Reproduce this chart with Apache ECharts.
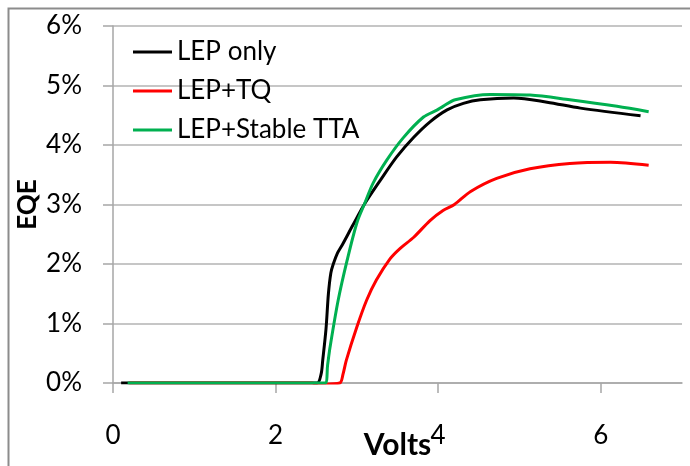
<!DOCTYPE html>
<html>
<head>
<meta charset="utf-8">
<script src="https://cdn.jsdelivr.net/npm/echarts@6/dist/echarts.min.js"></script>
<style>
  html, body { margin: 0; padding: 0; background: #fff; }
  #chart { width: 690px; height: 466px; }
</style>
</head>
<body>
<div id="chart"></div>
<script>
// EQE (%) versus drive voltage for the three device stacks
const seriesNames = ['LEP only', 'LEP+TQ', 'LEP+Stable TTA'];
const seriesColors = ['#000000', '#ff0000', '#00b050'];

const lepOnly = [
  [0.1, 0], [1.0, 0], [2.0, 0], [2.51, 0], [2.56, 0.15], [2.58, 0.38], [2.62, 0.9],
  [2.65, 1.5], [2.68, 1.85], [2.71, 2.0], [2.76, 2.18], [2.82, 2.32], [2.95, 2.65],
  [3.1, 3.02], [3.29, 3.41], [3.49, 3.8], [3.7, 4.13], [3.9, 4.39], [4.11, 4.59],
  [4.31, 4.7], [4.52, 4.76], [4.93, 4.79], [5.34, 4.72], [5.75, 4.62], [6.49, 4.49]
];

const lepTq = [
  [0.2, 0], [1.0, 0], [2.0, 0], [2.45, 0], [2.5, -0.02], [2.6, -0.02], [2.79, 0],
  [2.83, 0.15], [2.87, 0.38], [3.0, 0.94], [3.12, 1.39], [3.24, 1.73], [3.41, 2.09],
  [3.53, 2.26], [3.7, 2.45], [3.9, 2.73], [4.06, 2.9], [4.2, 3.0], [4.4, 3.22],
  [4.72, 3.44], [5.13, 3.6], [5.62, 3.69], [6.12, 3.71], [6.59, 3.66]
];

const lepStableTta = [
  [0.18, 0], [1.0, 0], [2.0, 0], [2.61, 0], [2.64, 0.3], [2.67, 0.6], [2.77, 1.39],
  [2.88, 2.06], [3.0, 2.69], [3.1, 3.03], [3.2, 3.36], [3.37, 3.75], [3.57, 4.12],
  [3.82, 4.47], [3.99, 4.59], [4.06, 4.65], [4.21, 4.76], [4.64, 4.85], [5.13, 4.84],
  [5.62, 4.76], [6.2, 4.65], [6.59, 4.56]
];

const xTickValues = [0, 2, 4, 6];
const seriesData = [lepOnly, lepTq, lepStableTta];

const FONT = 'Lato';
const chart = echarts.init(document.getElementById('chart'), null, { renderer: 'canvas' });

chart.setOption({
  animation: false,
  backgroundColor: '#ffffff',
  graphic: [{
    type: 'rect',
    left: 6, top: 6,
    shape: { width: 720, height: 480 },
    style: { fill: 'none', stroke: '#8c8c8c', lineWidth: 2 },
    z: -1
  }],
  grid: { left: 113, right: 8, top: 26, bottom: 83, outerBoundsMode: 'none', containLabel: false },
  legend: {
    orient: 'vertical',
    left: 133, top: 39,
    padding: 0,
    itemWidth: 39, itemHeight: 3,
    itemGap: 13,
    icon: 'rect',
    textStyle: { fontFamily: FONT, fontSize: 26, color: '#000' },
    data: seriesNames
  },
  xAxis: {
    type: 'value',
    min: 0, max: 7, interval: 2,
    name: 'Volts',
    nameLocation: 'middle',
    nameGap: 47,
    nameMoveOverlap: false,
    nameTextStyle: { fontFamily: FONT, fontSize: 30, fontWeight: 'bold', color: '#000' },
    axisLine: { lineStyle: { color: '#a6a6a6', width: 1.5 } },
    axisTick: { show: true, length: 10, customValues: xTickValues, lineStyle: { color: '#a6a6a6', width: 1.5 } },
    axisLabel: { customValues: xTickValues, fontFamily: FONT, fontSize: 26, color: '#000', margin: 40 },
    splitLine: { show: false }
  },
  yAxis: {
    type: 'value',
    min: 0, max: 6, interval: 1,
    name: 'EQE',
    nameLocation: 'middle',
    nameGap: 72,
    nameMoveOverlap: false,
    nameTextStyle: { fontFamily: FONT, fontSize: 26, fontWeight: 'bold', color: '#000' },
    axisLine: { show: true, lineStyle: { color: '#a6a6a6', width: 1.5 } },
    axisTick: { show: true, length: 10, lineStyle: { color: '#a6a6a6', width: 1.5 } },
    axisLabel: { formatter: '{value}%', fontFamily: FONT, fontSize: 26, color: '#000', margin: 31 },
    splitLine: { lineStyle: { color: '#b3b3b3', width: 1.5 } }
  },
  series: seriesNames.map((name, i) => ({
    name: name,
    type: 'line',
    data: seriesData[i],
    smooth: 0.3,
    showSymbol: false,
    symbol: 'none',
    lineStyle: { color: seriesColors[i], width: 3 },
    itemStyle: { color: seriesColors[i] },
    z: 2 + i
  }))
});
</script>
</body>
</html>
